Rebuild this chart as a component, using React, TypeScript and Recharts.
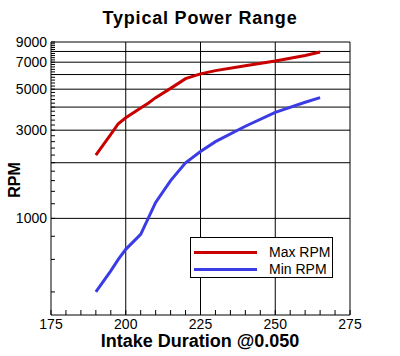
import { LineChart, Line, XAxis, YAxis, ReferenceLine, Legend } from "recharts"

const duration = [190, 195, 197.5, 200, 205, 207.5, 210, 215, 220, 225, 230, 240, 250, 260, 265]
const maxRpm = [2200, 2850, 3250, 3500, 3950, 4200, 4500, 5050, 5700, 6050, 6300, 6700, 7100, 7600, 7950]
const minRpm = [400, 520, 600, 680, 820, 1000, 1220, 1600, 2000, 2300, 2600, 3150, 3750, 4250, 4500]

const xLabels = [175, 200, 225, 250, 275]
const xGrid = [200, 225, 250, 275]
const yLabels = [1000, 3000, 5000, 7000, 9000]
const yGrid = [1000, 2000, 3000, 4000, 5000, 6000, 7000, 8000, 9000]

const xTicks: number[] = []
for (let v = 175; v <= 275; v += 5) xTicks.push(v)
const yTicks: number[] = []
for (let v = 400; v <= 9000; v += 200) yTicks.push(v)

const data = duration.map((d, i) => ({ duration: d, max: maxRpm[i], min: minRpm[i] }))

const RED = "#c80000"
const BLUE = "#3c3ce6"
const FONT = "'Liberation Sans', Arial, sans-serif"

function XTick({ x, y, payload }: any) {
  const labelled = xLabels.includes(payload.value)
  return (
    <g>
      <line x1={x} x2={x} y1={y} y2={y - 5} stroke="#000" />
      {labelled && (
        <text x={x} y={y + 14} textAnchor="middle" fontSize={14} fontFamily={FONT} fill="#000">
          {payload.value}
        </text>
      )}
    </g>
  )
}

function YTick({ x, y, payload }: any) {
  const labelled = yLabels.includes(payload.value)
  return (
    <g>
      <line x1={x} x2={x + 4} y1={y} y2={y} stroke="#000" />
      {labelled && (
        <text x={x - 4} y={y + 5} textAnchor="end" fontSize={14} fontFamily={FONT} fill="#000">
          {payload.value}
        </text>
      )}
    </g>
  )
}

function LegendBox() {
  const rows = [
    { name: "Max RPM", color: RED },
    { name: "Min RPM", color: BLUE },
  ]
  return (
    <div style={{ width: 141, height: 39, border: "1px solid #000", background: "#fff", position: "relative" }}>
      {rows.map((r, i) => (
        <div key={r.name} style={{ position: "absolute", left: 3, top: 7 + i * 17, display: "flex", alignItems: "center" }}>
          <div style={{ width: 63, height: 3, background: r.color }} />
          <span style={{ marginLeft: 12, fontSize: 14, fontFamily: FONT, lineHeight: "14px" }}>{r.name}</span>
        </div>
      ))}
    </div>
  )
}

export default function App() {
  return (
    <div style={{ position: "absolute", left: 0, top: 0, width: 400, height: 356, background: "#fff" }}>
      <div
        style={{
          position: "absolute",
          left: 0,
          top: 9,
          width: 400,
          textAlign: "center",
          fontFamily: FONT,
          fontWeight: "bold",
          fontSize: 18,
          lineHeight: "18px",
          letterSpacing: 0.8,
        }}
      >
        Typical Power Range
      </div>
      <div
        style={{
          position: "absolute",
          left: 15,
          top: 180,
          transform: "translate(-50%, -50%) rotate(-90deg)",
          fontFamily: FONT,
          fontWeight: "bold",
          fontSize: 16,
          lineHeight: "16px",
          whiteSpace: "nowrap",
        }}
      >
        RPM
      </div>
      <div
        style={{
          position: "absolute",
          left: 0,
          top: 334,
          width: 400,
          textAlign: "center",
          fontFamily: FONT,
          fontWeight: "bold",
          fontSize: 18,
          lineHeight: "15px",
        }}
      >
        Intake Duration @0.050
      </div>
      <LineChart width={400} height={356} data={data} margin={{ top: 42, right: 50, bottom: 11, left: 11 }}>
        <XAxis
          dataKey="duration"
          type="number"
          domain={[175, 275]}
          ticks={xTicks}
          interval={0}
          tickSize={0}
          tickMargin={0}
          tick={<XTick />}
          height={30}
          axisLine={{ stroke: "#000" }}
          tickLine={false}
        />
        <YAxis
          type="number"
          scale="log"
          domain={[300, 9000]}
          allowDataOverflow
          ticks={yTicks}
          interval={0}
          tickSize={0}
          tickMargin={0}
          tick={<YTick />}
          width={40}
          axisLine={{ stroke: "#000" }}
          tickLine={false}
        />
        {yGrid.map((v) => (
          <ReferenceLine key={"y" + v} y={v} stroke="#000" strokeWidth={1} />
        ))}
        {xGrid.map((v) => (
          <ReferenceLine key={"x" + v} x={v} stroke="#000" strokeWidth={1} />
        ))}
        <Line dataKey="max" name="Max RPM" stroke={RED} strokeWidth={3} dot={false} isAnimationActive={false} />
        <Line dataKey="min" name="Min RPM" stroke={BLUE} strokeWidth={3} dot={false} isAnimationActive={false} />
        <Legend
          layout="horizontal"
          verticalAlign="middle"
          content={<LegendBox />}
          wrapperStyle={{ left: 190, top: 237, width: 143, height: 41 }}
        />
      </LineChart>
    </div>
  )
}
